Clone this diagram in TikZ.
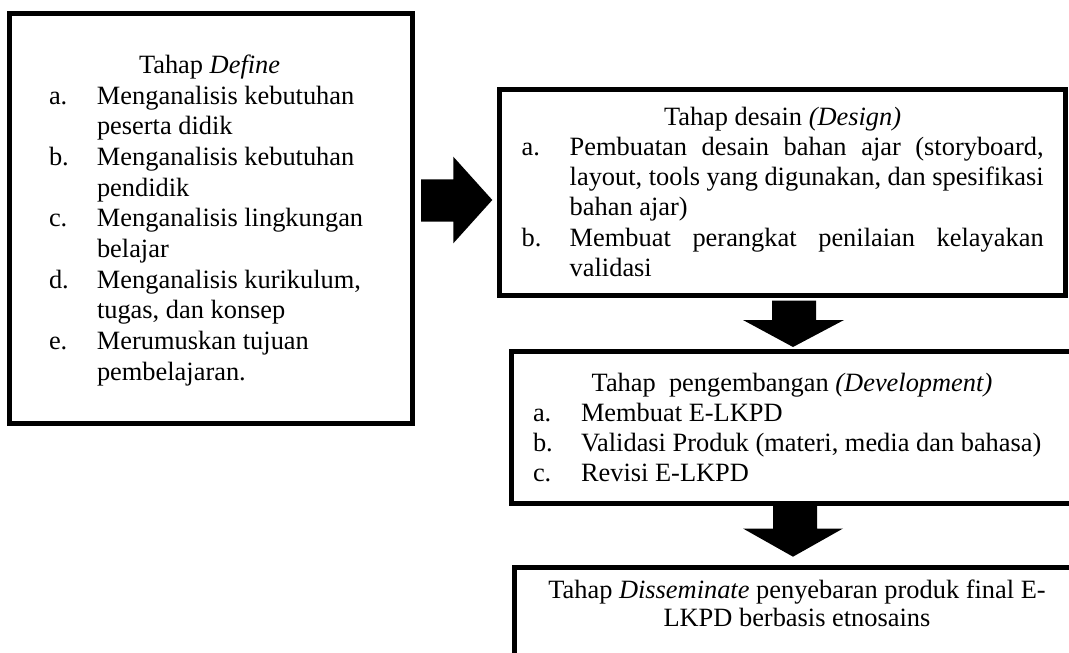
\documentclass[tikz,border=0pt]{standalone}
\usepackage{fontspec}
\setmainfont{Liberation Serif}
\newcommand\itm[2]{\hangindent=48pt\hangafter=1\noindent\makebox[48pt][l]{#1}#2\par}
\tikzset{
  box/.style={draw=black, line width=5pt, fill=white, inner sep=0pt},
  blockarrow/.style={fill=black, draw=none},
  txt/.style={inner sep=0pt, outer sep=0pt, anchor=base west, font={\fontsize{26.4pt}{30.4pt}\selectfont}},
}
\begin{document}
\begin{tikzpicture}[x=1pt,y=-1pt]
\useasboundingbox (0,0) rectangle (1069,653);
% boxes
\node[box, minimum width=403pt, minimum height=410pt] (b1) at (210.5,218.5) {};
\node[box, minimum width=566pt, minimum height=206.3pt] (b2) at (782,192.15) {};
\node[box, minimum width=569pt, minimum height=152pt] (b3) at (795.5,427.5) {};
\node[box, minimum width=566pt, minimum height=112.5pt] (b4) at (797,623.75) {};
% block arrows
\fill[blockarrow] (421,179.3) -- (453.3,179.3) -- (453.3,156.7) -- (492.3,200) -- (453.3,243.3) -- (453.3,221.7) -- (421,221.7) -- cycle;
\fill[blockarrow] (772,300.5) -- (816,300.5) -- (816,320) -- (844,320) -- (793,347) -- (743,320) -- (772,320) -- cycle;
\fill[blockarrow] (773,506) -- (817,506) -- (817,528.5) -- (843,528.5) -- (793,556.7) -- (743,528.5) -- (773,528.5) -- cycle;
% box 1 text
\node[txt] (t1) at (139,73) {Tahap \textit{Define}};
\node[txt, font={\fontsize{26.4pt}{30.7pt}\selectfont}] (l1) at (49,104) {\parbox[t]{330pt}{\raggedright\parskip=0pt
\itm{a.}{Menganalisis kebutuhan\newline peserta didik}
\itm{b.}{Menganalisis kebutuhan\newline pendidik}
\itm{c.}{Menganalisis lingkungan\newline belajar}
\itm{d.}{Menganalisis kurikulum,\newline tugas, dan konsep}
\itm{e.}{Merumuskan tujuan\newline pembelajaran.}}};
% box 2 text
\node[txt] (t2) at (664,125) {Tahap desain \textit{(Design)}};
\node[txt, font={\fontsize{26.4pt}{30.4pt}\selectfont}] (l2) at (521.7,155) {\parbox[t]{530pt}{\raggedright\parskip=0pt
\itm{a.}{\makebox[474pt][s]{Pembuatan desain bahan ajar (storyboard,}\newline\makebox[474pt][s]{layout, tools yang digunakan, dan spesifikasi}\newline bahan ajar)}
\itm{b.}{\makebox[474pt][s]{Membuat perangkat penilaian kelayakan}\newline validasi}}};
% box 3 text
\node[txt] (t3) at (591.7,391.7) {Tahap\ \ pengembangan \textit{(Development)}};
\node[txt, font={\fontsize{26.4pt}{30.1pt}\selectfont}] (l3) at (533,421.7) {\parbox[t]{530pt}{\raggedright\parskip=0pt
\itm{a.}{Membuat E-LKPD}
\itm{b.}{Validasi Produk (materi, media dan bahasa)}
\itm{c.}{Revisi E-LKPD}}};
% box 4 text
\node[txt, anchor=base, font={\fontsize{26.4pt}{28.7pt}\selectfont}] (t4) at (797,598) {\parbox[t]{540pt}{\centering Tahap \textit{Disseminate} penyebaran produk final E-\\LKPD berbasis etnosains}};
\end{tikzpicture}
\end{document}
